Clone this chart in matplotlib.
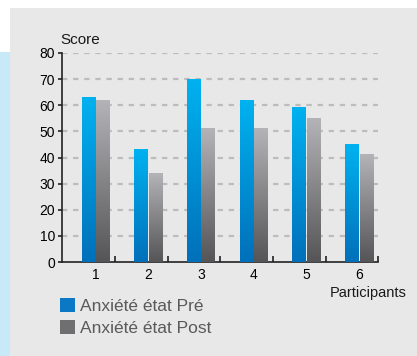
import numpy as np
import matplotlib
matplotlib.use("Agg")
import matplotlib.pyplot as plt
from matplotlib.colors import LinearSegmentedColormap
from matplotlib.patches import Rectangle, Patch

participants = ["1", "2", "3", "4", "5", "6"]
pre_scores = [63, 43, 70, 62, 59, 45]
post_scores = [62, 34, 51, 51, 55, 41]
series_labels = ["Anxiété état Pré", "Anxiété état Post"]

plt.rcParams["font.family"] = ["Liberation Sans", "DejaVu Sans"]

W, H = 417, 356
fig = plt.figure(figsize=(W / 100, H / 100), dpi=100)
fig.patch.set_facecolor("white")

# background panel and blue side strip
fig.patches.append(Rectangle((10 / W, 0), 1 - 10 / W, 1 - 8 / H, transform=fig.transFigure,
                             facecolor="#e8e8e8", edgecolor="none", zorder=-10))
fig.patches.append(Rectangle((0, 0), 10 / W, 1 - 52 / H, transform=fig.transFigure,
                             facecolor="#c8eaf8", edgecolor="none", zorder=-10))

left, right, bottom, top = 62 / W, 378 / W, 1 - 262 / H, 1 - 53 / H
ax = fig.add_axes([left, bottom, right - left, top - bottom])
ax.set_facecolor("none")

x = np.arange(1, len(participants) + 1)
bw = 0.255
pre_cmap = LinearSegmentedColormap.from_list("pre", ["#0070ba", "#00b2f0"])
post_cmap = LinearSegmentedColormap.from_list("post", ["#555557", "#b4b4b8"])
grad = np.linspace(0, 1, 256).reshape(-1, 1)

pre_bars = ax.bar(x - bw / 2 - 0.01, pre_scores, bw, facecolor="none", linewidth=0)
post_bars = ax.bar(x + bw / 2 + 0.01, post_scores, bw, facecolor="none", linewidth=0)
for bars, cmap in ((pre_bars, pre_cmap), (post_bars, post_cmap)):
    for b in bars:
        x0, w, h = b.get_x(), b.get_width(), b.get_height()
        ax.imshow(grad, extent=[x0, x0 + w, 0, h], origin="lower", cmap=cmap,
                  aspect="auto", zorder=3, interpolation="bilinear")

# dashed horizontal gridlines
for yv in range(10, 81, 10):
    ax.axhline(yv, color="#bcbcbc", lw=1.6, dashes=(2.4, 2.6), zorder=1)

ax.set_xlim(0.364, 6.36)
ax.set_ylim(0, 80)

for s in ("top", "right"):
    ax.spines[s].set_visible(False)
for s in ("left", "bottom"):
    ax.spines[s].set_color("#222222")
    ax.spines[s].set_linewidth(1.2)

ax.set_yticks(range(0, 81, 10))
ax.tick_params(axis="y", direction="out", length=3, width=1.2, color="#222222",
               labelsize=10, pad=2)
ax.set_xticks(x)
ax.set_xticklabels(participants)
ax.tick_params(axis="x", length=0, labelsize=10, pad=4)
ax.set_xticks(list(x[:-1] + 0.37) + [6.36], minor=True)
ax.tick_params(axis="x", which="minor", direction="in", length=4, width=1.2, color="#222222")

fig.text(60 / W, 1 - 44 / H, "Score", fontsize=11, color="#1a1a1a", ha="left", va="baseline")
fig.text(407 / W, 1 - 297 / H, "Participants", fontsize=10.5, color="#1a1a1a", ha="right", va="baseline")

handles = [Patch(facecolor="#0a78c4", edgecolor="none"),
           Patch(facecolor="#6f6f71", edgecolor="none")]
leg = fig.legend(handles, series_labels, loc="upper left",
                 bbox_to_anchor=(60 / W, 1 - 298 / H), frameon=False, fontsize=12.5,
                 handlelength=0.85, handleheight=0.85, handletextpad=0.3,
                 labelspacing=0.35, borderpad=0, borderaxespad=0)
for t in leg.get_texts():
    t.set_color("#5a5a5c")

fig.savefig("out.png", dpi=100)
